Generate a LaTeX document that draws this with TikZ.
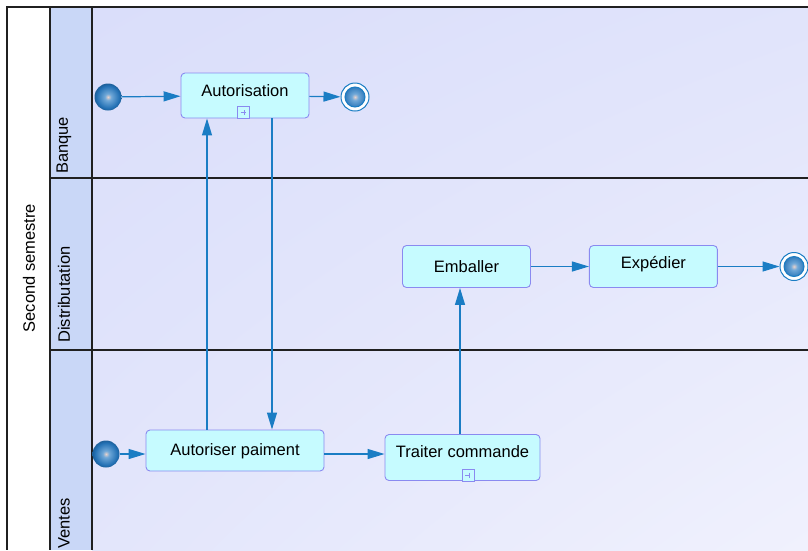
\documentclass[tikz,border=0pt]{standalone}
\usepackage{fontspec}
\setmainfont{Liberation Sans}
\usetikzlibrary{arrows.meta,positioning,shadings}

\definecolor{lanebg}{HTML}{DADEFA}
\definecolor{lanebglight}{HTML}{F0F1FD}
\definecolor{headbg}{HTML}{C9D7F7}
\definecolor{actfill}{HTML}{C6FBFF}
\definecolor{actdraw}{HTML}{8A8AF0}
\definecolor{flowblue}{HTML}{1A7DC4}
\definecolor{ballcore}{HTML}{E8D2CC}
\definecolor{ballmid}{HTML}{70A8D8}
\definecolor{ballrim}{HTML}{2270B4}
\definecolor{framegray}{HTML}{202020}

\pgfdeclareradialshading{eventball}{\pgfpoint{0bp}{0bp}}{color(0bp)=(ballcore); color(6bp)=(ballmid); color(21bp)=(ballrim); color(25bp)=(ballrim!85!black); color(50bp)=(ballrim!85!black)}

\begin{document}
\begin{tikzpicture}[x=1pt,y=-1pt,font=\fontsize{16.5}{19}\selectfont,>=Latex,
  act/.style={draw=actdraw,fill=actfill,line width=0.9pt,rounded corners=4pt,minimum width=128pt,minimum height=42pt,inner sep=0pt,text height=12pt,text depth=0pt},
  startnode/.style={circle,minimum size=27pt,inner sep=0pt,shading=eventball},
  endnode/.style={circle,minimum size=28pt,inner sep=0pt,draw=flowblue,fill=white,line width=1pt,
    path picture={\shade[shading=eventball,draw=flowblue] (path picture bounding box.center) circle (10pt);}},
  subicon/.style={draw=actdraw,fill=actfill,line width=0.9pt,minimum size=12pt,inner sep=0pt,
    path picture={\draw[actdraw,line width=0.8pt] ([xshift=-3pt]path picture bounding box.center)--++(5pt,0) ([xshift=1pt,yshift=2.5pt]path picture bounding box.center)--++(0,-5pt);}},
  flow/.style={draw=flowblue,line width=1.2pt,-{Triangle[length=17pt,width=10pt]}},
  lanelabel/.style={rotate=90,anchor=west,inner sep=0pt}]

\useasboundingbox (0,0) rectangle (808,550);
\fill[white] (0,0) rectangle (808,550);

% swimlanes
\shade[upper left=lanebg,upper right=lanebg!70!lanebglight,lower left=lanebg!60!lanebglight,lower right=lanebglight] (92,7) rectangle (808,550);
\fill[headbg] (50,7) rectangle (92,550);
\draw[framegray,line width=1.2pt] (808,7) -- (7,7) -- (7,550);
\draw[framegray,line width=1.2pt] (50,7) -- (50,550) (92,7) -- (92,550);
\draw[framegray,line width=1.2pt] (50,178) -- (808,178) (50,350) -- (808,350);

\node[rotate=90,inner sep=0pt] (period) at (29,268) {Second semestre};
\node[lanelabel] (banque) at (64,174) {Banque};
\node[lanelabel] (distrib) at (64,343) {Distributation};
\node[lanelabel] (ventes) at (64,549) {Ventes};

% Banque
\node[startnode] (start1) at (108,97) {};
\node[act,minimum height=45pt,text depth=11pt] (autorisation) at (245,95.5) {Autorisation};
\node[subicon,anchor=south] (autorisation-sub) at ([xshift=-1.5pt,yshift=-0.5pt]autorisation.south) {};
\node[endnode] (end1) at (355,97) {};

% Distributation
\node[act,text depth=1pt] (emballer) at (466.5,266.5) {Emballer};
\node[act,text depth=8pt,right=58pt of emballer] (expedier) {Expédier};
\node[endnode] (end2) at (794,266.5) {};

% Ventes
\node[startnode] (start2) at (106,454) {};
\node[act,minimum width=178pt,minimum height=41pt,text depth=3pt] (paiement) at (235,450.5) {Autoriser paiment};
\node[act,minimum width=155pt,minimum height=46pt,text depth=13pt] (traiter) at (462.5,457.5) {Traiter commande};
\node[subicon,anchor=south] (traiter-sub) at ([xshift=5.5pt,yshift=-0.5pt]traiter.south) {};

% flows
\draw[flow] (start1) -- (autorisation);
\draw[flow] (autorisation) -- (end1);
\draw[flow] ([xshift=-38pt]autorisation.south |- paiement.north) -- ([xshift=-38pt]autorisation.south);
\draw[flow] ([xshift=27pt]autorisation.south) -- ([xshift=27pt]autorisation.south |- paiement.north);
\draw[flow] (start2) -- (start2 -| paiement.west);
\draw[flow] (paiement.east |- start2) -- (traiter.west |- start2);
\draw[flow] ([xshift=-2.5pt]traiter.north) -- ([xshift=-2.5pt]traiter.north |- emballer.south);
\draw[flow] (emballer) -- (expedier);
\draw[flow] (expedier) -- (end2);
\end{tikzpicture}
\end{document}
